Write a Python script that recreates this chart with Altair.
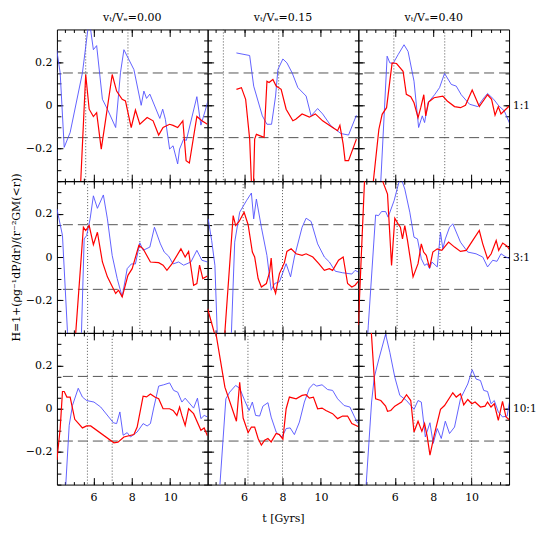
import altair as alt
import pandas as pd

FONT = "DejaVu Serif"
X_DOMAIN = [4.1, 11.95]
Y_DOMAIN = [-0.352, 0.352]

x_major = [6, 8, 10]
x_minor = [4.5, 5, 5.5, 6, 6.5, 7, 7.5, 8, 8.5, 9, 9.5, 10, 10.5, 11, 11.5]
y_labeled = [-0.2, 0, 0.2]
y_minor = [-0.35, -0.3, -0.25, -0.2, -0.15, -0.1, -0.05, 0, 0.05, 0.1, 0.15, 0.2, 0.25, 0.3]

col_titles = ["vₜ/Vₑ=0.00", "vₜ/Vₑ=0.15", "vₜ/Vₑ=0.40"]
row_labels = ["1:1", "3:1", "10:1"]
h_bands = [-0.15, 0.15]
vlines = [
    [[5.6, 7.8], [4.92, 7.8], [5.95, 8.6]],
    [[5.7, 8.42], [5.95, 8.0], [6.12, 8.35]],
    [[5.69, 6.98], [6.2, 8.0], [7.0, 10.0]],
]

# ---- row 1 (1:1) ----
t_r1c1_blue = [4.09, 4.27, 4.48, 4.79, 5.43, 5.78, 6.0, 6.17, 6.47, 6.73, 7.16, 7.41, 7.59, 7.85, 8.11, 8.49, 8.63, 8.77, 8.94, 9.46, 9.61, 9.75, 9.97, 10.15, 10.39, 10.49, 10.7, 10.84, 11.39, 11.6, 11.82, 11.99]
h_r1c1_blue = [0.258, 0.151, -0.195, -0.126, 0.151, 0.40, 0.258, 0.277, 0.028, -0.018, -0.103, 0.151, 0.258, 0.212, 0.166, 0.0, 0.066, 0.032, 0.052, -0.061, -0.018, -0.065, -0.203, -0.188, -0.272, -0.203, -0.157, -0.163, 0.04, -0.092, -0.026, 0.028]
t_r1c1_red = [5.3, 5.6, 5.78, 6.0, 6.17, 6.41, 6.64, 6.98, 7.21, 7.5, 7.67, 7.97, 8.19, 8.42, 8.8, 9.11, 9.4, 9.63, 9.97, 10.15, 10.39, 10.66, 10.83, 11.0, 11.39, 11.65, 11.94]
h_r1c1_red = [-0.43, 0.143, -0.018, -0.052, -0.034, -0.203, -0.065, 0.143, 0.066, 0.028, 0.02, -0.103, -0.022, -0.088, -0.057, -0.072, -0.138, -0.103, -0.088, -0.093, -0.103, -0.072, -0.257, -0.268, -0.052, -0.072, -0.088]

t_r1c2_blue = [5.6, 6.29, 6.5, 6.95, 7.19, 7.43, 7.64, 7.76, 8.02, 8.23, 8.5, 8.8, 9.23, 9.49, 9.83, 10.09, 10.52, 11.04, 11.44, 11.85]
h_r1c2_blue = [0.243, 0.231, 0.089, -0.049, -0.088, -0.088, 0.043, 0.166, 0.215, 0.197, 0.151, 0.082, 0.043, -0.049, -0.015, -0.04, -0.095, -0.131, -0.138, -0.046]
t_r1c2_red = [5.6, 5.86, 6.08, 6.29, 6.4, 6.48, 6.55, 6.64, 7.04, 7.19, 7.3, 7.5, 7.67, 7.93, 8.19, 8.54, 8.69, 9.02, 9.4, 9.71, 10.09, 10.61, 10.87, 10.99, 11.16, 11.26, 11.44, 11.85]
h_r1c2_red = [0.074, 0.082, 0.028, -0.157, -0.40, -0.40, -0.157, -0.135, -0.149, 0.112, 0.106, 0.12, 0.089, 0.074, -0.018, -0.072, -0.065, -0.04, -0.055, -0.04, -0.072, -0.103, -0.118, -0.093, -0.18, -0.257, -0.257, -0.157]

t_r1c3_blue = [5.22, 5.6, 5.74, 5.91, 6.17, 6.48, 6.69, 7.0, 7.24, 7.43, 7.55, 7.73, 8.07, 8.33, 8.59, 8.94, 9.2, 9.46, 9.89, 10.32, 10.58, 10.83, 11.15, 11.39, 11.7, 12.0]
h_r1c3_blue = [-0.44, 0.228, 0.197, 0.194, 0.235, 0.281, 0.25, 0.112, -0.103, -0.049, -0.08, 0.012, 0.049, 0.082, 0.148, 0.097, 0.089, 0.049, 0.005, -0.006, 0.028, 0.055, 0.028, 0.0, -0.026, -0.088]
t_r1c3_red = [4.8, 5.17, 5.34, 5.57, 5.74, 5.86, 6.09, 6.43, 6.6, 6.83, 7.0, 7.21, 7.35, 7.51, 7.61, 7.76, 8.04, 8.5, 8.73, 9.11, 9.42, 9.68, 10.03, 10.4, 10.83, 11.04, 11.22, 11.39, 11.53, 12.0]
h_r1c3_red = [-0.42, -0.111, -0.042, -0.011, 0.112, 0.197, 0.194, 0.158, 0.051, 0.04, 0.012, -0.057, -0.011, 0.049, -0.049, 0.015, 0.035, 0.043, 0.02, -0.006, -0.011, 0.0, 0.071, -0.006, 0.049, 0.028, -0.046, -0.006, -0.04, 0.0]

# ---- row 2 (3:1) ----
t_r2c1_blue = [4.1, 4.39, 4.65, 4.8, 5.25, 5.38, 5.52, 5.65, 5.83, 6.0, 6.21, 6.52, 6.73, 6.98, 7.24, 7.5, 7.76, 7.98, 8.19, 8.42, 8.59, 8.94, 9.18, 9.49, 9.69, 9.92, 10.15, 10.44, 10.7, 11.08, 11.39, 11.65, 11.94]
h_r2c1_blue = [0.223, 0.1, -0.346, -0.6, -0.6, -0.35, 0.084, 0.1, 0.177, 0.284, 0.226, 0.288, 0.177, 0.007, -0.1, -0.185, -0.054, -0.032, -0.032, 0.066, 0.031, 0.046, 0.138, 0.061, 0.023, 0.004, -0.032, -0.023, -0.038, -0.023, 0.031, -0.015, -0.023]
t_r2c1_red = [5.0, 5.48, 5.6, 5.78, 6.0, 6.21, 6.47, 6.73, 7.16, 7.31, 7.5, 7.8, 8.02, 8.37, 8.59, 8.97, 9.4, 9.63, 9.83, 10.09, 10.56, 10.78, 10.96, 11.22, 11.39, 11.53, 11.7, 11.94]
h_r2c1_red = [-0.45, 0.138, 0.123, 0.146, 0.057, 0.115, -0.023, -0.092, -0.169, -0.154, -0.185, -0.085, -0.054, 0.054, 0.038, -0.023, -0.026, -0.038, -0.062, -0.032, 0.038, 0.0, 0.026, -0.131, -0.123, -0.038, -0.1, -0.088]

t_r2c2_blue = [4.13, 4.31, 4.48, 4.6, 4.7, 5.25, 5.34, 5.51, 5.77, 6.12, 6.38, 6.5, 6.64, 6.9, 7.19, 7.41, 7.59, 7.84, 8.19, 8.42, 8.62, 9.02, 9.23, 9.49, 9.83, 10.18, 10.44, 10.75, 11.13, 11.61, 11.78, 11.96]
h_r2c2_blue = [0.177, 0.077, -0.039, -0.35, -0.6, -0.6, -0.35, 0.069, 0.208, 0.261, 0.297, 0.177, 0.269, 0.138, 0.007, -0.154, -0.123, -0.115, -0.031, -0.092, 0.0, 0.138, 0.18, 0.165, 0.061, 0.0, -0.023, -0.066, -0.073, -0.079, -0.062, -0.07]
t_r2c2_red = [4.1, 4.6, 4.95, 5.43, 5.56, 5.74, 6.0, 6.21, 6.43, 6.55, 6.73, 6.9, 7.16, 7.33, 7.41, 7.53, 7.64, 7.84, 8.1, 8.23, 8.45, 8.71, 9.02, 9.23, 9.58, 9.89, 10.18, 10.44, 10.61, 10.92, 11.16, 11.39, 11.61, 11.78, 11.99]
h_r2c2_red = [-0.24, -0.40, -0.41, 0.192, 0.146, 0.165, 0.208, 0.15, 0.023, 0.0, -0.1, -0.139, -0.123, -0.069, -0.005, -0.139, -0.169, -0.077, -0.026, 0.026, 0.038, 0.015, 0.008, 0.015, 0.0, -0.031, -0.062, -0.054, -0.062, -0.015, 0.0, -0.123, -0.139, -0.131, -0.108]

t_r2c3_blue = [4.5, 4.62, 5.0, 5.15, 5.31, 5.52, 5.65, 5.96, 6.21, 6.35, 6.52, 6.78, 7.0, 7.18, 7.38, 7.55, 7.69, 7.81, 7.93, 8.21, 8.38, 8.5, 8.63, 8.85, 9.02, 9.42, 9.8, 10.23, 10.58, 10.83, 11.1, 11.32, 11.53, 11.79, 12.0]
h_r2c3_blue = [-0.5, -0.316, 0.195, 0.192, 0.211, 0.211, 0.185, 0.261, 0.346, 0.36, 0.315, 0.208, 0.092, 0.084, -0.008, -0.039, -0.031, -0.054, -0.023, -0.046, 0.115, 0.038, 0.084, 0.138, 0.154, 0.069, 0.023, 0.015, 0.0, -0.046, -0.015, -0.02, 0.015, 0.0, -0.008]
t_r2c3_red = [4.1, 4.42, 4.6, 5.2, 5.39, 5.62, 5.83, 6.0, 6.17, 6.29, 6.4, 6.52, 6.66, 6.95, 7.21, 7.38, 7.5, 7.64, 7.81, 7.98, 8.21, 8.45, 8.8, 9.11, 9.42, 9.72, 10.06, 10.4, 10.58, 10.83, 11.02, 11.28, 11.41, 11.62, 11.85, 12.0]
h_r2c3_red = [-0.316, 0.35, 0.6, 0.6, 0.346, 0.292, -0.039, 0.18, 0.154, 0.138, 0.084, 0.146, 0.077, -0.092, -0.031, 0.061, 0.023, 0.008, -0.05, 0.023, 0.038, 0.031, 0.069, 0.046, 0.026, 0.031, 0.077, 0.123, 0.061, -0.008, 0.015, 0.077, 0.031, 0.065, 0.05, 0.031]

# ---- row 3 (10:1) ----
t_r3c1_blue = [4.5, 4.74, 4.91, 5.21, 5.43, 5.65, 6.03, 6.38, 6.76, 7.04, 7.21, 7.38, 7.55, 7.76, 7.93, 8.28, 8.59, 8.8, 8.97, 9.14, 9.4, 9.66, 9.97, 10.18, 10.39, 10.61, 10.78, 11.22, 11.42, 11.6, 11.77, 11.94]
h_r3c1_blue = [-0.45, -0.077, 0.015, 0.095, 0.054, 0.038, 0.031, 0.008, -0.034, -0.065, -0.069, -0.015, -0.123, -0.111, -0.131, -0.108, -0.069, -0.08, -0.069, 0.003, 0.105, 0.111, 0.12, 0.085, 0.077, 0.031, 0.049, 0.003, 0.049, -0.046, -0.031, -0.038]
t_r3c1_red = [4.1, 4.27, 4.39, 4.48, 4.62, 4.79, 5.03, 5.43, 5.65, 5.86, 7.07, 7.28, 7.59, 8.11, 8.28, 8.59, 8.77, 8.97, 9.2, 9.4, 9.63, 9.97, 10.15, 10.35, 10.49, 10.61, 10.78, 10.96, 11.22, 11.6, 11.77, 11.94]
h_r3c1_red = [-0.238, -0.092, 0.08, 0.08, 0.054, 0.054, -0.049, -0.089, -0.08, -0.08, -0.158, -0.155, -0.131, -0.12, -0.085, 0.058, 0.055, 0.068, 0.054, 0.046, 0.0, 0.0, -0.008, -0.031, 0.008, -0.031, -0.077, 0.0, -0.023, -0.1, -0.089, -0.125]

t_r3c2_blue = [4.65, 5.05, 5.25, 5.56, 5.77, 6.03, 6.26, 6.43, 6.6, 6.81, 6.98, 7.24, 7.41, 7.67, 7.84, 7.98, 8.19, 8.4, 8.62, 8.88, 9.14, 9.4, 9.61, 9.78, 10.06, 10.35, 10.61, 10.87, 11.21, 11.51, 11.73, 11.9, 11.99]
h_r3c2_blue = [-0.47, 0.046, 0.077, 0.108, 0.095, 0.038, -0.008, 0.031, -0.031, -0.034, 0.012, 0.028, -0.039, -0.108, -0.123, -0.131, -0.092, -0.089, -0.12, -0.062, 0.031, 0.095, 0.115, 0.105, 0.111, 0.089, 0.085, 0.046, 0.015, 0.008, -0.034, -0.065, -0.069]
t_r3c2_red = [4.4, 5.0, 5.6, 5.77, 5.95, 6.21, 6.38, 6.55, 6.73, 6.9, 7.07, 7.24, 7.41, 7.67, 7.84, 8.02, 8.19, 8.36, 8.71, 9.02, 9.23, 9.4, 9.61, 9.83, 10.06, 10.26, 10.61, 10.87, 11.13, 11.39, 11.61, 11.99]
h_r3c2_red = [0.42, 0.1, -0.058, 0.123, -0.043, -0.111, -0.085, -0.085, -0.138, -0.169, -0.146, -0.138, -0.154, -0.115, -0.12, -0.141, 0.0, 0.054, 0.046, 0.062, 0.065, 0.049, 0.054, 0.0, 0.003, -0.008, -0.023, -0.046, -0.034, -0.034, -0.069, -0.085]

t_r3c3_blue = [4.45, 4.79, 4.93, 5.17, 5.52, 5.74, 6.0, 6.26, 6.61, 6.9, 7.0, 7.21, 7.38, 7.59, 7.83, 8.0, 8.21, 8.42, 8.63, 8.85, 9.11, 9.42, 9.8, 10.03, 10.23, 10.46, 10.63, 10.83, 11.01, 11.18, 11.39, 11.61, 11.85, 12.0]
h_r3c3_blue = [-0.43, 0.031, 0.146, 0.231, 0.346, 0.262, 0.146, 0.062, 0.038, 0.008, -0.003, 0.038, 0.031, -0.131, -0.065, -0.161, -0.092, -0.138, -0.058, -0.115, -0.085, 0.046, 0.115, 0.181, 0.138, 0.131, 0.085, 0.08, 0.023, 0.038, -0.015, -0.038, -0.034, 0.046]
t_r3c3_red = [4.7, 5.0, 5.27, 5.52, 5.62, 5.79, 6.0, 6.35, 6.61, 6.83, 7.0, 7.21, 7.41, 7.55, 7.69, 7.83, 8.07, 8.38, 8.59, 9.02, 9.2, 9.42, 9.59, 9.8, 10.01, 10.18, 10.46, 10.7, 10.83, 11.01, 11.18, 11.39, 11.61, 11.79, 12.0]
h_r3c3_red = [0.46, 0.046, 0.038, 0.012, -0.012, -0.008, 0.012, 0.031, 0.065, 0.038, -0.108, -0.058, -0.105, -0.069, -0.131, -0.215, -0.115, -0.003, 0.015, 0.074, 0.054, 0.069, 0.018, 0.043, 0.023, 0.031, 0.008, 0.012, 0.031, 0.008, 0.023, -0.054, 0.034, -0.038, -0.054]

BLUE = [[(t_r1c1_blue, h_r1c1_blue), (t_r1c2_blue, h_r1c2_blue), (t_r1c3_blue, h_r1c3_blue)],
        [(t_r2c1_blue, h_r2c1_blue), (t_r2c2_blue, h_r2c2_blue), (t_r2c3_blue, h_r2c3_blue)],
        [(t_r3c1_blue, h_r3c1_blue), (t_r3c2_blue, h_r3c2_blue), (t_r3c3_blue, h_r3c3_blue)]]
RED = [[(t_r1c1_red, h_r1c1_red), (t_r1c2_red, h_r1c2_red), (t_r1c3_red, h_r1c3_red)],
       [(t_r2c1_red, h_r2c1_red), (t_r2c2_red, h_r2c2_red), (t_r2c3_red, h_r2c3_red)],
       [(t_r3c1_red, h_r3c1_red), (t_r3c2_red, h_r3c2_red), (t_r3c3_red, h_r3c3_red)]]

Y_TITLE = "H=1+(ρg⁻¹dP/dr)/(r⁻²GM(<r))"
W = 151
H = 152

xs = alt.Scale(domain=X_DOMAIN, nice=False, zero=False)
ys = alt.Scale(domain=Y_DOMAIN, nice=False, zero=False)
anchor = pd.DataFrame({"t": [8.0], "h": [0.0]})


def tick_axis(orient, values, size, **kw):
    return alt.Axis(orient=orient, values=values, tickSize=alt.ExprRef(expr=str(-size)),
                    tickColor="black", tickWidth=1, domain=False, grid=False, **kw)


def panel(r, c):
    last_row = r == 2
    first_col = c == 0
    last_col = c == 2

    bx_major = tick_axis("bottom", x_major, 7, labels=last_row, format="d", labelPadding=14,
                         title=("t [Gyrs]" if (last_row and c == 1) else None), titlePadding=10)
    bx_minor = tick_axis("bottom", x_minor, 3, labels=False, title=None)
    tx_major = tick_axis("top", x_major, 7, labels=False, title=None)
    tx_minor = tick_axis("top", x_minor, 3, labels=False, title=None)

    ly_major = tick_axis("left", y_labeled, 6, labels=first_col, format=".1~f", labelPadding=11,
                         title=(Y_TITLE if (first_col and r == 1) else None), titlePadding=4)
    ly_minor = tick_axis("left", y_minor, 4, labels=False, title=None)
    ry_major = tick_axis("right", y_labeled, 6, labels=False,
                         title=(row_labels[r] if last_col else None), titleAngle=0,
                         titleFontSize=10.5, titleAlign="left", titleBaseline="middle", titlePadding=3)
    ry_minor = tick_axis("right", y_minor, 4, labels=False, title=None)

    base = alt.Chart(anchor).mark_point(opacity=0)
    carriers = [
        base.encode(x=alt.X("t:Q", scale=xs, axis=bx_major), y=alt.Y("h:Q", scale=ys, axis=ly_major)),
        base.encode(x=alt.X("t:Q", scale=xs, axis=bx_minor), y=alt.Y("h:Q", scale=ys, axis=ly_minor)),
        base.encode(x=alt.X("t:Q", scale=xs, axis=tx_major), y=alt.Y("h:Q", scale=ys, axis=ry_major)),
        base.encode(x=alt.X("t:Q", scale=xs, axis=tx_minor), y=alt.Y("h:Q", scale=ys, axis=ry_minor)),
    ]

    hl = alt.Chart(pd.DataFrame({"h": h_bands})).mark_rule(
        color="#555555", strokeWidth=1, strokeDash=[10, 5]
    ).encode(y=alt.Y("h:Q", scale=ys, axis=None))
    vl = alt.Chart(pd.DataFrame({"t": vlines[r][c]})).mark_rule(
        color="#555555", strokeWidth=1, strokeDash=[1, 2]
    ).encode(x=alt.X("t:Q", scale=xs, axis=None))

    tb, hb = BLUE[r][c]
    tr, hr = RED[r][c]
    blue = alt.Chart(pd.DataFrame({"t": tb, "h": hb})).mark_line(
        color="#5050ff", strokeWidth=0.9, clip=True
    ).encode(x=alt.X("t:Q", scale=xs, axis=None), y=alt.Y("h:Q", scale=ys, axis=None))
    red = alt.Chart(pd.DataFrame({"t": tr, "h": hr})).mark_line(
        color="#ff0000", strokeWidth=1.2, clip=True
    ).encode(x=alt.X("t:Q", scale=xs, axis=None), y=alt.Y("h:Q", scale=ys, axis=None))

    layer = alt.layer(hl, vl, blue, red, *carriers).resolve_axis(x="independent", y="independent")
    props = dict(width=W, height=H)
    if r == 0:
        props["title"] = alt.TitleParams(text=col_titles[c], font=FONT, fontSize=11,
                                         fontWeight="normal", color="black", offset=6)
    return layer.properties(**props)


panels = [panel(r, c) for r in range(3) for c in range(3)]
chart = alt.concat(*panels, columns=3, spacing=0, bounds="flush").properties(
    padding={"left": 1, "top": 3, "right": 0, "bottom": 2}
).configure_axis(
    labelFont=FONT, titleFont=FONT, labelFontSize=11, titleFontSize=11,
    titleFontWeight="normal", labelColor="black", titleColor="black"
).configure_view(stroke="black", strokeWidth=1).configure_title(font=FONT, fontWeight="normal")

chart.save("out.html", embed_options={"renderer": "svg", "actions": False})
